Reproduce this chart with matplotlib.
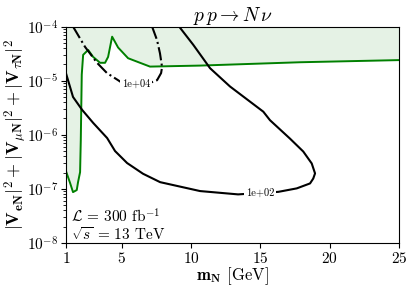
import numpy as np
import matplotlib
matplotlib.use('Agg')
import matplotlib.pyplot as plt

plt.rcParams['mathtext.fontset'] = 'cm'
plt.rcParams['font.family'] = 'serif'
plt.rcParams['font.serif'] = ['cmr10']
plt.rcParams['axes.formatter.use_mathtext'] = True

# excluded region (green curve, shaded above)
green_m = [1.0, 1.29, 1.50, 1.77, 1.86, 2.01, 2.06, 2.13, 2.23, 2.59, 2.95, 3.45,
           3.81, 4.03, 4.32, 4.75, 5.47, 6.33, 7.05, 10.66, 17.86, 25.0]
green_v = [2.1e-7, 1.28e-7, 8.7e-8, 9.5e-8, 1.32e-7, 2.04e-7, 7.9e-7, 1.29e-5,
           3.0e-5, 3.7e-5, 2.75e-5, 2.14e-5, 2.14e-5, 2.75e-5, 6.5e-5, 4.1e-5,
           2.6e-5, 2.14e-5, 1.82e-5, 1.9e-5, 2.19e-5, 2.4e-5]

# contour 1e+02 (solid)
c2_m = [1.0, 1.5, 2.15, 2.95, 3.96, 4.53, 5.40, 6.55, 7.78, 10.66, 13.40, 16.30,
        17.63, 18.59, 18.82, 18.95, 18.71, 18.10, 17.14, 15.70, 15.22, 12.82,
        11.38, 10.17, 9.15]
c2_v = [1.35e-5, 5.0e-6, 2.9e-6, 1.66e-6, 8.7e-7, 5.0e-7, 3.0e-7, 1.9e-7, 1.33e-7,
        9.1e-8, 7.9e-8, 8.8e-8, 1.02e-7, 1.26e-7, 1.55e-7, 1.93e-7, 2.95e-7,
        4.9e-7, 8.5e-7, 1.86e-6, 2.67e-6, 7.8e-6, 1.7e-5, 4.6e-5, 1.0e-4]

# contour 1e+04 (dash-dot)
c4_m = [1.50, 2.37, 3.23, 3.95, 4.75, 5.04, 6.05, 7.05, 7.56, 7.85, 7.92, 7.77, 7.56, 7.20]
c4_v = [1.0e-4, 4.2e-5, 2.14e-5, 1.38e-5, 1.02e-5, 9.1e-6, 8.7e-6, 9.1e-6, 1.02e-5,
        1.38e-5, 1.78e-5, 3.2e-5, 5.6e-5, 1.0e-4]

fig = plt.figure(figsize=(4.13, 2.92), dpi=100)
ax = fig.add_axes([0.160, 0.168, 0.806, 0.741])

ax.fill_between(green_m, green_v, 1e-4, color='green', alpha=0.1, lw=0)
ax.plot(green_m, green_v, color='green', lw=1.4)
ax.plot(c2_m, c2_v, color='black', lw=1.5)
ax.plot(c4_m, c4_v, color='black', lw=1.5, ls='-.')

ax.text(14.98, 8.2e-8, '1e+02', fontsize=7.5, ha='center', va='center',
        bbox=dict(fc='white', ec='none', pad=1.5))
ax.text(6.04, 8.6e-6, '1e+04', fontsize=7.5, ha='center', va='center',
        bbox=dict(fc='white', ec='none', pad=1.5))

ax.text(1.35, 2.35e-8, r'$\mathcal{L}$ = 300 fb$^{-1}$', fontsize=11)
ax.text(1.35, 1.15e-8, r'$\sqrt{s}$ = 13 TeV', fontsize=11)

ax.set_yscale('log')
ax.set_xlim(1, 25)
ax.set_ylim(1e-8, 1e-4)
ax.set_xticks([1, 5, 10, 15, 20, 25])
ax.tick_params(labelsize=11, pad=2)

ax.set_xlabel(r'$\mathbf{m_N}$ [GeV]', fontsize=12, labelpad=0)
ax.set_ylabel(r'$|\mathbf{V_{eN}}|^2 + |\mathbf{V}_{\mu \mathbf{N}}|^2 + |\mathbf{V}_{\tau \mathbf{N}}|^2$',
              fontsize=13)
ax.yaxis.set_label_coords(-0.112, 0.5)
ax.set_title(r'$p\,p \rightarrow N\,\nu$', fontsize=14, pad=3)

fig.savefig('out.png', dpi=100)
